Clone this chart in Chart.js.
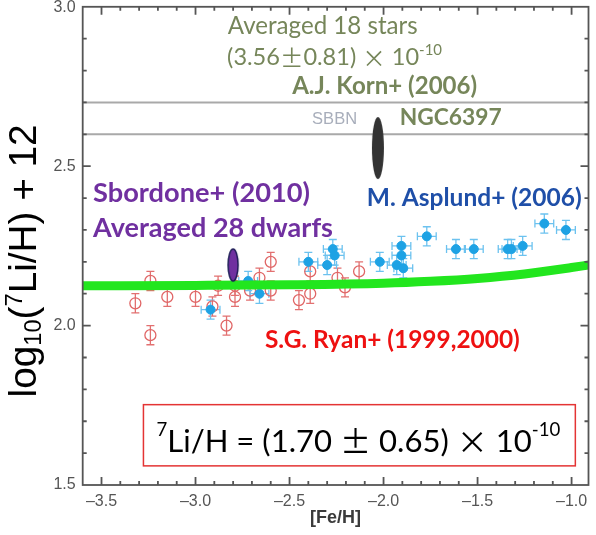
<!DOCTYPE html>
<html><head><meta charset="utf-8">
<script src="https://cdn.jsdelivr.net/npm/chart.js@4/dist/chart.umd.min.js"></script>
<style>html,body{margin:0;padding:0;background:#fff;}#wrap{position:relative;width:596px;height:535px;}</style>
</head><body><div id="wrap"><canvas id="c" width="596" height="535"></canvas></div>
<script>
// ---- data ----
const xTickValues = [-3.5, -3.0, -2.5, -2.0, -1.5, -1.0];
const xTickLabels = ['–3.5', '–3.0', '–2.5', '–2.0', '–1.5', '–1.0'];
const yTickValues = [1.5, 2.0, 2.5, 3.0];
const yTickLabels = ['1.5', '2.0', '2.5', '3.0'];

// S.G. Ryan+ (1999,2000): open red circles
const ryanFeH = [-3.32, -3.24, -3.24, -3.15, -3.00, -2.91, -2.88, -2.835, -2.79, -2.79, -2.71, -2.66, -2.60, -2.60, -2.45, -2.39, -2.39, -2.245, -2.205, -2.13];
const ryanLi  = [2.07, 2.14, 1.97, 2.09, 2.09, 2.06, 2.125, 2.00, 2.09, 2.125, 2.11, 2.15, 2.11, 2.20, 2.08, 2.10, 2.17, 2.15, 2.12, 2.17];
const ryanErrLi = 0.03;

// M. Asplund+ (2006): filled blue circles
const asplundFeH = [-2.92, -2.72, -2.66, -2.40, -2.30, -2.27, -2.26, -2.02, -1.93, -1.905, -1.905, -1.895, -1.77, -1.615, -1.52, -1.34, -1.32, -1.26, -1.145, -1.03];
const asplundLi  = [2.05, 2.14, 2.10, 2.20, 2.19, 2.24, 2.22, 2.20, 2.19, 2.25, 2.22, 2.18, 2.28, 2.24, 2.24, 2.24, 2.24, 2.25, 2.32, 2.30];
const asplundErrFeH = 0.05;
const asplundErrLi = 0.03;

// green model curve
const curveFeH = [-3.6, -3.0, -2.5, -2.0, -1.75, -1.5, -1.25, -1.0, -0.91];
const curveLi  = [2.125, 2.126, 2.128, 2.133, 2.139, 2.148, 2.162, 2.182, 2.19];

// SBBN band lines
const sbbnLines = [2.7, 2.6];
const xRange = [-3.6, -0.91];
const yRange = [1.5, 3.0];

// averaged points
const sbordoneFeH = [-2.80], sbordoneLi = [2.19];
const kornFeH = [-2.03], kornLi = [2.557];

// ---- helpers ----
function ellipseImg(w, h, fill, stroke, lw) {
  const c = document.createElement('canvas');
  c.width = w + 4; c.height = h + 4;
  const g = c.getContext('2d');
  g.beginPath(); g.ellipse(c.width/2, c.height/2, w/2, h/2, 0, 0, 2*Math.PI);
  g.fillStyle = fill; g.fill();
  if (stroke) { g.lineWidth = lw; g.strokeStyle = stroke; g.stroke(); }
  return c;
}
function pts(xs, ys) { return xs.map((v, i) => ({x: v, y: ys[i]})); }

const CAL = 'Lato, "Open Sans", sans-serif';
const OLIVE = '#76865a';
const annotations = [
  {x:-2.323, y:2.939, align:'center', w:190, color:OLIVE, segs:[{t:'Averaged 18 stars', s:22, wt:'normal'}]},
  {x:-2.832, y:2.840, align:'left', w:215, color:OLIVE, segs:[{t:'(3.56', s:22, wt:'normal'},{t:'±', s:22, wt:'normal', fam:'"Noto Sans CJK JP"'},{t:'0.81) ', s:22, wt:'normal'},{t:'×', s:22, wt:'normal', fam:'"Noto Sans CJK JP"'},{t:' 10', s:22, wt:'normal'},{t:'-10', s:14, wt:'normal', dy:-7}]},
  {x:-2.486, y:2.750, align:'left', w:185, color:OLIVE, segs:[{t:'A.J. Korn+ (2006)', s:22, wt:'bold'}]},
  {x:-2.380, y:2.647, align:'left', w:45, color:'#a8aebb', segs:[{t:'SBBN', s:13, wt:'normal', fam:'"Liberation Sans"'}]},
  {x:-1.914, y:2.653, align:'left', w:102, color:OLIVE, segs:[{t:'NGC6397', s:22, wt:'bold'}]},
  {x:-3.545, y:2.415, align:'left', w:217, color:'#7030a0', segs:[{t:'Sbordone+ (2010)', s:26, wt:'bold'}]},
  {x:-3.545, y:2.306, align:'left', w:240, color:'#7030a0', segs:[{t:'Averaged 28 dwarfs', s:26, wt:'bold'}]},
  {x:-2.089, y:2.399, align:'left', w:215, color:'#1f4fa8', segs:[{t:'M. Asplund+ (2006)', s:22, wt:'bold'}]},
  {x:-2.631, y:1.956, align:'left', w:255, color:'#ee1111', segs:[{t:'S.G. Ryan+ (1999,2000)', s:22, wt:'bold'}]},
  {x:-3.208, y:1.636, align:'left', w:404, color:'#000', segs:[{t:'7', s:18, wt:'normal', dy:-11},{t:'Li/H = (1.70 ', s:30, wt:'normal'},{t:'±', s:30, wt:'normal', fam:'"Noto Sans CJK JP"'},{t:' 0.65) ', s:30, wt:'normal'},{t:'×', s:30, wt:'normal', fam:'"Noto Sans CJK JP"'},{t:' 10', s:30, wt:'normal'},{t:'-10', s:18, wt:'normal', dy:-11}]}
];
const boxRange = {x0:-3.277, x1:-0.980, y0:1.560, y1:1.752};

function fontOf(seg, k, fam) { return `${seg.wt||'normal'} ${seg.s*k}px ${seg.fam||fam}`; }
function drawRich(ctx, px, py, segs, align, targetW, color, fam) {
  let w0 = 0;
  segs.forEach(s => { ctx.font = fontOf(s, 1, fam); w0 += ctx.measureText(s.t).width; });
  const k = targetW ? targetW / w0 : 1;
  let total = w0 * k;
  let sx = align === 'center' ? px - total/2 : (align === 'right' ? px - total : px);
  ctx.fillStyle = color; ctx.textBaseline = 'middle'; ctx.textAlign = 'left';
  segs.forEach(s => {
    ctx.font = fontOf(s, k, fam);
    ctx.fillText(s.t, sx, py + (s.dy||0)*k);
    sx += ctx.measureText(s.t).width;
  });
}

const errorBars = {
  id: 'errorBars',
  beforeDatasetsDraw(chart) {
    const {ctx, chartArea: a, scales: {x, y}} = chart;
    ctx.save();
    ctx.beginPath(); ctx.rect(a.left, a.top, a.right - a.left, a.bottom - a.top); ctx.clip();
    chart.data.datasets.forEach(ds => {
      if (!ds.errY && !ds.errX) return;
      ctx.strokeStyle = ds.errColor; ctx.lineWidth = 1.3;
      ds.data.forEach(p => {
        const cx = x.getPixelForValue(p.x), cy = y.getPixelForValue(p.y);
        ctx.beginPath();
        if (ds.errY) {
          const t = y.getPixelForValue(p.y + ds.errY), b = y.getPixelForValue(p.y - ds.errY);
          ctx.moveTo(cx, t); ctx.lineTo(cx, b);
          ctx.moveTo(cx - 4, t); ctx.lineTo(cx + 4, t);
          ctx.moveTo(cx - 4, b); ctx.lineTo(cx + 4, b);
        }
        if (ds.errX) {
          const l = x.getPixelForValue(p.x - ds.errX), r = x.getPixelForValue(p.x + ds.errX);
          ctx.moveTo(l, cy); ctx.lineTo(r, cy);
          ctx.moveTo(l, cy - 4); ctx.lineTo(l, cy + 4);
          ctx.moveTo(r, cy - 4); ctx.lineTo(r, cy + 4);
        }
        ctx.stroke();
      });
    });
    ctx.restore();
  }
};

const frameAndText = {
  id: 'frameAndText',
  afterDatasetsDraw(chart) {
    const {ctx, chartArea: a, scales: {x, y}} = chart;
    ctx.save();
    // frame
    ctx.strokeStyle = '#555'; ctx.lineWidth = 1.8;
    ctx.strokeRect(a.left, a.top, a.right - a.left, a.bottom - a.top);
    ctx.beginPath();
    for (let i = Math.ceil(xRange[0]*10)+1; i <= Math.floor(xRange[1]*10); i++) {
      const px = x.getPixelForValue(i/10), L = (i % 5 === 0) ? 8 : 4;
      ctx.moveTo(px, a.bottom); ctx.lineTo(px, a.bottom - L);
      ctx.moveTo(px, a.top); ctx.lineTo(px, a.top + L);
    }
    for (let i = 16; i <= 29; i++) {
      const py = y.getPixelForValue(i/10), L = (i % 5 === 0) ? 8 : 4;
      ctx.moveTo(a.left, py); ctx.lineTo(a.left + L, py);
      ctx.moveTo(a.right, py); ctx.lineTo(a.right - L, py);
    }
    ctx.stroke();
    // y tick labels
    ctx.fillStyle = '#555'; ctx.font = '16px "Liberation Sans", Arial, sans-serif';
    ctx.textAlign = 'right'; ctx.textBaseline = 'middle';
    yTickValues.forEach((v, i) => {
      const py = Math.max(y.getPixelForValue(v), 8);
      ctx.fillText(yTickLabels[i], a.left - 7, py);
    });
    // box
    ctx.strokeStyle = '#e43434'; ctx.lineWidth = 1.5;
    const bx0 = x.getPixelForValue(boxRange.x0), bx1 = x.getPixelForValue(boxRange.x1);
    const by0 = y.getPixelForValue(boxRange.y1), by1 = y.getPixelForValue(boxRange.y0);
    ctx.strokeRect(bx0, by0, bx1 - bx0, by1 - by0);
    // annotations
    annotations.forEach(an => {
      drawRich(ctx, x.getPixelForValue(an.x), y.getPixelForValue(an.y), an.segs, an.align, an.w, an.color, CAL);
    });
    // y axis title (rotated)
    ctx.translate(25, (a.top + a.bottom)/2 + 15);
    ctx.rotate(-Math.PI/2);
    drawRich(ctx, 0, 0, [
      {t:'log', s:36}, {t:'10', s:22, dy:9}, {t:'(', s:36}, {t:'7', s:22, dy:-9}, {t:'Li/H) + 12', s:36}
    ], 'center', 273, '#000', '"Liberation Sans", Arial, sans-serif');
    ctx.restore();
  }
};

new Chart(document.getElementById('c'), {
  type: 'scatter',
  data: {
    datasets: [
      {label:'SBBN upper', type:'line', data: xRange.map(v => ({x:v, y:sbbnLines[0]})), borderColor:'#a9a9a9', borderWidth:2, pointRadius:0, order:5},
      {label:'SBBN lower', type:'line', data: xRange.map(v => ({x:v, y:sbbnLines[1]})), borderColor:'#a9a9a9', borderWidth:2, pointRadius:0, order:5},
      {label:'Ryan', data: pts(ryanFeH, ryanLi), pointStyle:'circle', pointRadius:5.5, borderColor:'#e06666', backgroundColor:'rgba(0,0,0,0)', borderWidth:1.3, errY: ryanErrLi, errColor:'#e27070', order:4},
      {label:'Asplund', data: pts(asplundFeH, asplundLi), pointStyle:'circle', pointRadius:4.5, borderColor:'#1ea2e4', backgroundColor:'#1ea2e4', borderWidth:1, errY: asplundErrLi, errX: asplundErrFeH, errColor:'#6cc2ef', order:3},
      {label:'Model', type:'line', data: pts(curveFeH, curveLi), borderColor:'#22e61e', borderWidth:9, pointRadius:0, tension:0.4, cubicInterpolationMode:'monotone', order:2},
      {label:'Sbordone', data: pts(sbordoneFeH, sbordoneLi), pointStyle: ellipseImg(10, 32, '#7030a0', '#1c1c55', 1.5), order:1},
      {label:'Korn', data: pts(kornFeH, kornLi), pointStyle: ellipseImg(12, 62, '#333333', null, 0), order:1}
    ]
  },
  options: {
    responsive: false, animation: false, devicePixelRatio: 1,
    layout: {padding: {left: 0, right: 7.5, top: 1.5, bottom: 0}},
    plugins: {legend: {display: false}, tooltip: {enabled: false}},
    scales: {
      x: {
        type: 'linear', min: xRange[0], max: xRange[1],
        afterBuildTicks: s => { s.ticks = xTickValues.map(v => ({value: v})); },
        afterFit: s => { s.height = 50; },
        grid: {display: false, drawTicks: false},
        border: {display: false},
        ticks: {color:'#555', font:{family:'"Liberation Sans", Arial, sans-serif', size:16}, padding:7, maxRotation:0, autoSkip:false,
          callback: (v) => { const i = xTickValues.findIndex(t => Math.abs(t - v) < 1e-6); return i >= 0 ? xTickLabels[i] : ''; }},
        title: {display: true, text: '[Fe/H]', color:'#3a3a3a', font:{family:'"Liberation Sans", Arial, sans-serif', size:18, weight:'bold'}, padding:{top:0, bottom:6}}
      },
      y: {
        type: 'linear', min: yRange[0], max: yRange[1],
        afterBuildTicks: s => { s.ticks = yTickValues.map(v => ({value: v})); },
        afterFit: s => { s.width = 82.7; },
        grid: {display: false, drawTicks: false},
        border: {display: false},
        ticks: {display: false}
      }
    }
  },
  plugins: [errorBars, frameAndText]
});
</script>
</body></html>
